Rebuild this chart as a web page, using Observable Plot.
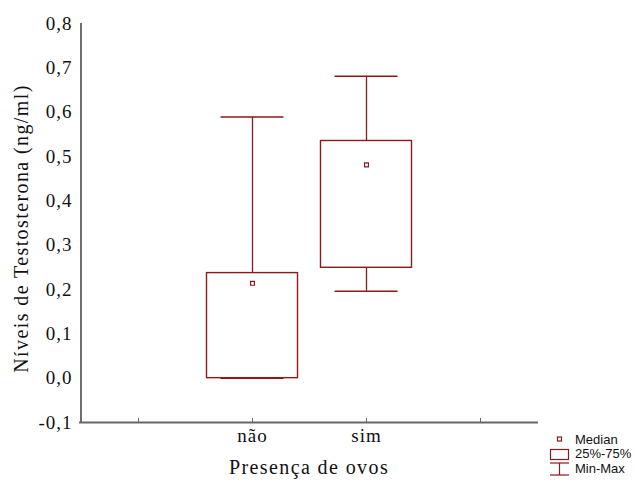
<!DOCTYPE html>
<html><head><meta charset="utf-8">
<script src="https://cdn.jsdelivr.net/npm/d3@7"></script>
<script src="https://cdn.jsdelivr.net/npm/@observablehq/plot@0.6"></script>
<style>
body{margin:0;background:#fff}
#chart svg text{font-family:"Liberation Serif","Times New Roman",Times,serif !important;letter-spacing:1px}
#chart svg text.ttl{letter-spacing:1.4px}
#chart svg g.legend text{font-family:"Liberation Sans",Arial,Helvetica,sans-serif !important;font-size:13px !important;letter-spacing:0}
</style>
</head><body><div id="chart"></div>
<script>
const categories = ["", "não", "sim", " "];
const groups = ["não", "sim"];
const minVals = [0.0, 0.196];
const q1Vals = [0.0, 0.249];
const medianVals = [0.214, 0.481];
const q3Vals = [0.237, 0.535];
const maxVals = [0.589, 0.681];
const yTicks = [-0.1, 0, 0.1, 0.2, 0.3, 0.4, 0.5, 0.6, 0.7, 0.8];
const legendLabels = ["Median", "25%-75%", "Min-Max"];

const data = groups.map((g, i) => ({g, min: minVals[i], q1: q1Vals[i], med: medianVals[i], q3: q3Vals[i], max: maxVals[i]}));
const red = "#8b1a1a";

const plot = Plot.plot({
  width: 635, height: 483,
  marginLeft: 79, marginRight: 97, marginTop: 23, marginBottom: 61,
  style: {fontSize: "19px", color: "#111", background: "#fff"},
  x: {type: "band", domain: categories, padding: 0, label: null},
  y: {domain: [-0.1, 0.8], label: null},
  marks: [
    Plot.ruleX(data, {x: "g", y1: "q3", y2: "max", stroke: red, strokeWidth: 1.3}),
    Plot.ruleX(data.filter(d => d.min < d.q1), {x: "g", y1: "min", y2: "q1", stroke: red, strokeWidth: 1.3}),
    Plot.tickY(data, {x: "g", y: "max", stroke: red, strokeWidth: 1.5, inset: 25.5}),
    Plot.tickY(data, {x: "g", y: "min", stroke: red, strokeWidth: 1.5, inset: 25.5}),
    Plot.barY(data, {x: "g", y1: "q1", y2: "q3", fill: "white", stroke: red, strokeWidth: 1.4, insetLeft: 11.5, insetRight: 11.5}),
    Plot.dot(data, {x: "g", y: "med", symbol: "square", r: 2.2, stroke: red, strokeWidth: 1.2, fill: "white"}),
    Plot.axisY({ticks: yTicks, tickSize: 0, tickPadding: 7, tickFormat: d => d3.format(".1f")(d).replace(".", ",").replace("−", "-"), fontSize: 19, fill: "#111"}),
    Plot.axisX({tickSize: -4, tickPadding: 10, stroke: "#666", fontSize: 19, fill: "#111", tickFormat: d => d.trim()}),
    Plot.ruleX([0], {x: () => categories[0], dx: -57.5, y1: -0.1, y2: 0.8, stroke: "#222", strokeWidth: 1.3}),
    Plot.ruleY([-0.1], {stroke: "#666", strokeWidth: 2}),
    Plot.text(["Níveis de Testosterona (ng/ml)"], {frameAnchor: "left", textAnchor: "middle", rotate: -90, dx: -58, dy: 5.5, fontSize: 20, fill: "#111", text: d => d, className: "ttl"}),
    Plot.text(["Presença de ovos"], {frameAnchor: "bottom", dy: 51, fontSize: 20, fill: "#111", text: d => d, className: "ttl"})
  ]
});
document.getElementById("chart").appendChild(plot);
d3.select(plot).selectAll("g[aria-label='text'] text").attr("class", "ttl");

// Legend
const svg = d3.select(plot);
const lg = svg.append("g").attr("class", "legend").attr("transform", "translate(550,432)").attr("text-anchor", "start");
lg.append("rect").attr("x", 7.5).attr("y", 5).attr("width", 4).attr("height", 4).attr("fill", "white").attr("stroke", red).attr("stroke-width", 1.2);
lg.append("rect").attr("x", 0.5).attr("y", 17.5).attr("width", 18).attr("height", 10).attr("fill", "white").attr("stroke", red).attr("stroke-width", 1.2);
lg.append("line").attr("x1", 0).attr("x2", 19).attr("y1", 31).attr("y2", 31).attr("stroke", red).attr("stroke-width", 1.2);
lg.append("line").attr("x1", 9.5).attr("x2", 9.5).attr("y1", 31).attr("y2", 43).attr("stroke", red).attr("stroke-width", 1.2);
lg.append("line").attr("x1", 0).attr("x2", 19).attr("y1", 43).attr("y2", 43).attr("stroke", red).attr("stroke-width", 1.2);
legendLabels.forEach((t, i) => lg.append("text").attr("x", 25).attr("y", 7 + i * 14.5).attr("dy", "0.35em").attr("text-anchor", "start").attr("fill", "#111").text(t));
</script></body></html>
